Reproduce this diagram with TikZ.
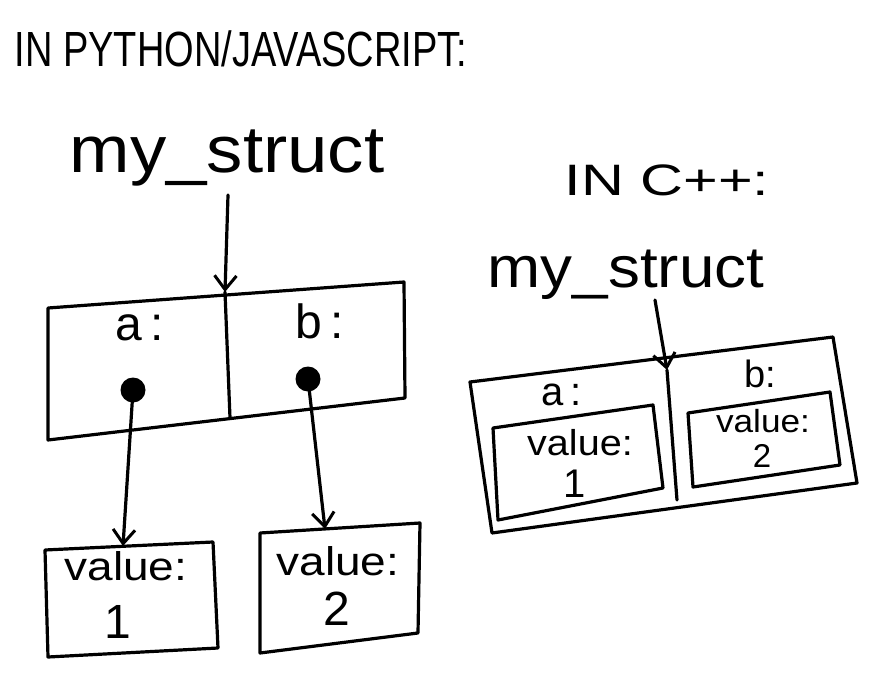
\documentclass[tikz,border=0pt]{standalone}
\usepackage{fontspec}
\setmainfont{Liberation Sans}
\usepackage{graphicx}
\usetikzlibrary{arrows.meta}
\newcommand{\fs}[1]{\fontsize{#1}{#1}\selectfont}
\begin{document}
\begin{tikzpicture}[x=1pt,y=-1pt,line width=3.2pt,line join=round,line cap=round,
  box/.style={draw,line width=3.2pt},
  arr/.style={-{Straight Barb[length=14pt,width=22pt,line width=3pt]}},
  lbl/.style={inner sep=0pt,anchor=base},
  dotnode/.style={circle,fill,inner sep=0pt,minimum size=25pt}]
\useasboundingbox (0,0) rectangle (879,680);

% ---------- headings ----------
\node[lbl] (t1) at (241,66) {\fs{38}\scalebox{1}[1.3]{IN PYTHON/JAVASCRIPT:}};
\node[lbl] (ms1) at (227,172) {\fs{66}\scalebox{1.1}[1]{my\_struct}};
\node[lbl] (t2) at (667,195) {\fs{44}\scalebox{1.35}[1]{IN C++:}};
\node[lbl] (ms2) at (626,287) {\fs{58}\scalebox{1.1}[1]{my\_struct}};

% ---------- left struct ----------
\coordinate (L1) at (48,308);
\coordinate (L2) at (404,282);
\coordinate (L3) at (405,398);
\coordinate (L4) at (48,440);
\coordinate (LdT) at (225,292);
\coordinate (LdB) at (230,418);
\draw[box] (L1) -- (L2) -- (L3) -- (L4) -- cycle;
\draw (LdT) -- (LdB);
\node[lbl] (la) at (140,340) {\fs{48}a\,:};
\node[lbl] (lb) at (320,338) {\fs{48}b\,:};
\node[dotnode] (dA) at (133,390) {};
\node[dotnode] (dB) at (308,379) {};

\coordinate (sL) at (228,195);
\draw[arr] (sL) -- (LdT);

% value boxes
\coordinate (V11) at (45,550);
\coordinate (V12) at (213,542);
\coordinate (V13) at (218,648);
\coordinate (V14) at (48,657);
\draw[box] (V11) -- (V12) -- (V13) -- (V14) -- cycle;
\coordinate (V1t) at (123,546);
\node[lbl] (v1l) at (126,580) {\fs{40}\scalebox{1.15}[1]{value:}};
\node[lbl] (v1n) at (118,638) {\fs{48}1};

\coordinate (V21) at (260,533);
\coordinate (V22) at (420,523);
\coordinate (V23) at (418,633);
\coordinate (V24) at (260,653);
\draw[box] (V21) -- (V22) -- (V23) -- (V24) -- cycle;
\coordinate (V2t) at (325,529);
\node[lbl] (v2l) at (338,575) {\fs{40}\scalebox{1.15}[1]{value:}};
\node[lbl] (v2n) at (337,625) {\fs{48}2};

\draw[arr] (dA.center) -- (V1t);
\draw[arr] (dB.center) -- (V2t);

% ---------- right struct ----------
\coordinate (R1) at (470,382);
\coordinate (R2) at (833,337);
\coordinate (R3) at (857,483);
\coordinate (R4) at (492,533);
\coordinate (RdT) at (667,370);
\coordinate (RdB) at (677,500);
\draw[box] (R1) -- (R2) -- (R3) -- (R4) -- cycle;
\draw (RdT) -- (RdB);
\coordinate (sR) at (655,300);
\draw[arr] (sR) -- (RdT);
\node[lbl] (ra) at (562,405) {\fs{40}a\,:};
\node[lbl] (rb) at (760,387) {\fs{38}b:};

\coordinate (A1) at (493,428);
\coordinate (A2) at (653,405);
\coordinate (A3) at (663,488);
\coordinate (A4) at (498,520);
\draw[box] (A1) -- (A2) -- (A3) -- (A4) -- cycle;
\node[lbl] (ral) at (580,455) {\fs{36}\scalebox{1.1}[1]{value:}};
\node[lbl] (ran) at (575,497) {\fs{40}1};

\coordinate (B1) at (688,413);
\coordinate (B2) at (830,392);
\coordinate (B3) at (840,465);
\coordinate (B4) at (693,487);
\draw[box] (B1) -- (B2) -- (B3) -- (B4) -- cycle;
\node[lbl] (rbl) at (763,432) {\fs{32}\scalebox{1.1}[1]{value:}};
\node[lbl] (rbn) at (762,467) {\fs{33}2};
\end{tikzpicture}
\end{document}
